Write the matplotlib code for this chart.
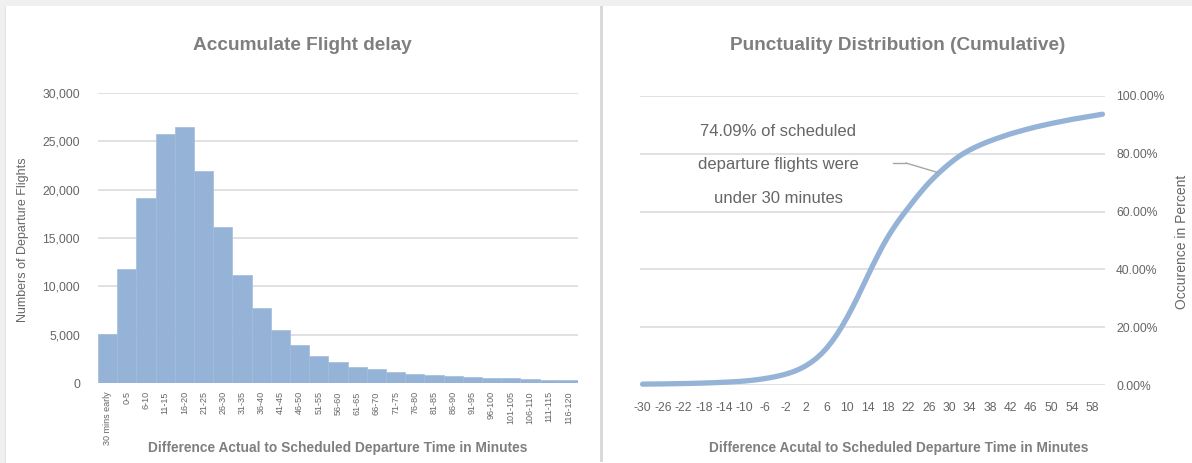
import matplotlib
matplotlib.use('Agg')
import matplotlib.pyplot as plt
from matplotlib.patches import Rectangle
from matplotlib.lines import Line2D
from matplotlib.ticker import FuncFormatter, FixedLocator

# ---------------- data ----------------
categories = ['30 mins early', '0-5', '6-10', '11-15', '16-20', '21-25', '26-30',
              '31-35', '36-40', '41-45', '46-50', '51-55', '56-60', '61-65',
              '66-70', '71-75', '76-80', '81-85', '86-90', '91-95', '96-100',
              '101-105', '106-110', '111-115', '116-120']
flights = [5100, 11750, 19100, 25800, 26450, 21950, 16150, 11150, 7740, 5500,
           3890, 2820, 2170, 1650, 1410, 1140, 960, 830, 720, 620,
           550, 480, 410, 340, 310]

minutes = list(range(-30, 61))
cumulative_pct = [
    0.30, 0.32, 0.34, 0.36, 0.38, 0.41, 0.44, 0.47, 0.50, 0.54,
    0.58, 0.63, 0.68, 0.74, 0.80, 0.87, 0.95, 1.04, 1.14, 1.25,
    1.38, 1.55, 1.75, 1.98, 2.25, 2.55, 2.90, 3.30, 3.75, 4.30,
    4.95, 5.75, 6.70, 7.85, 9.20, 10.80, 12.70, 14.90, 17.40, 20.20,
    23.30, 26.60, 30.10, 33.80, 37.50, 41.20, 44.70, 48.10, 51.20, 54.00,
    56.60, 59.00, 61.30, 63.60, 65.80, 67.90, 69.90, 71.70, 73.40, 75.00,
    76.50, 77.90, 79.20, 80.30, 81.30, 82.20, 83.00, 83.75, 84.45, 85.10,
    85.70, 86.30, 86.90, 87.40, 87.90, 88.40, 88.85, 89.30, 89.70, 90.10,
    90.50, 90.85, 91.20, 91.55, 91.90, 92.20, 92.50, 92.80, 93.10, 93.40, 93.70]
minute_tick_labels = ['-30', '-26', '-22', '-18', '-14', '-10', '-6', '-2', '2', '6',
                      '10', '14', '18', '22', '26', '30', '34', '38', '42', '46',
                      '50', '54', '58']
left_yticks = [0, 5000, 10000, 15000, 20000, 25000, 30000]
right_yticks = [0, 20, 40, 60, 80, 100]
annotation_lines = ['74.09% of scheduled', 'departure flights were', 'under 30 minutes']
annotated_minute = 28

# ---------------- styling ----------------
W, H = 1192, 463
plt.rcParams['font.family'] = ['Liberation Sans', 'DejaVu Sans']
BAR = '#95b3d7'
GRID = '#d9d9d9'
TITLE_C = '#7f7f7f'
TICK_C = '#666666'

fig = plt.figure(figsize=(W / 100, H / 100), dpi=100)
fig.patch.set_facecolor('white')


def frect(x0, y0, x1, y1, color):
    """rectangle in figure pixel coords (y from top)."""
    fig.patches.append(Rectangle((x0 / W, 1 - y1 / H), (x1 - x0) / W, (y1 - y0) / H,
                                 transform=fig.transFigure, facecolor=color,
                                 edgecolor='none', zorder=-5))


frect(0, 0, W, 6, '#f0f0f0')
frect(0, 0, 5, H, '#f0f0f0')
frect(5, 6, 6, H, '#e2e2e2')
frect(600, 6, 603, 462, '#d9d9d9')


def ax_rect(x0, y0, x1, y1):
    return [x0 / W, 1 - y1 / H, (x1 - x0) / W, (y1 - y0) / H]


# ---------------- left chart ----------------
ax1 = fig.add_axes(ax_rect(98, 93, 578, 383))
xpos = list(range(len(categories)))
ax1.bar(xpos, flights, width=1.0, color=BAR, edgecolor='#a3bcdb', linewidth=0.5, zorder=3)
ax1.set_xlim(-0.5, len(categories) - 0.5)
ax1.set_ylim(0, 30000)
ax1.yaxis.set_major_locator(FixedLocator(left_yticks))
ax1.yaxis.set_major_formatter(FuncFormatter(lambda v, p: f'{v:,.0f}'))
ax1.grid(axis='y', color=GRID, linewidth=1.1, zorder=0)
ax1.set_axisbelow(True)
for s in ax1.spines.values():
    s.set_visible(False)
ax1.set_xticks(xpos)
ax1.set_xticklabels(categories, rotation=90, fontsize=6.5, color=TICK_C, va='top', ha='center')
ax1.tick_params(axis='x', length=0, pad=6)
ax1.tick_params(axis='y', length=0, pad=13, labelsize=8.7, labelcolor=TICK_C)
ax1.set_facecolor('none')

fig.text(302 / W, 1 - 46 / H, 'Accumulate Flight delay', ha='center', va='center',
         fontsize=13.7, fontweight='bold', color=TITLE_C)
fig.text(338 / W, 1 - 448 / H, 'Difference Actual to Scheduled Departure Time in Minutes',
         ha='center', va='center', fontsize=9.9, fontweight='bold', color=TITLE_C)
fig.text(23 / W, 1 - 240 / H, 'Numbers of Departure Flights', ha='center', va='center',
         rotation=90, fontsize=9, color=TICK_C)

# ---------------- right chart ----------------
ax2 = fig.add_axes(ax_rect(640, 96, 1105, 385))
ax2.plot(minutes, cumulative_pct, color=BAR, linewidth=3.8, solid_capstyle='round',
         solid_joinstyle='round', zorder=3, clip_on=False)
ax2.set_xlim(minutes[0] - 0.5, minutes[-1] + 0.5)
ax2.set_ylim(0, 100)
ax2.yaxis.tick_right()
ax2.yaxis.set_major_locator(FixedLocator(right_yticks))
ax2.yaxis.set_major_formatter(FuncFormatter(lambda v, p: f'{v:.2f}%'))
tick_pos = [int(t) for t in minute_tick_labels]
ax2.set_xticks(tick_pos)
ax2.set_xticklabels(minute_tick_labels)
ax2.grid(axis='y', color=GRID, linewidth=1.1, zorder=0)
ax2.set_axisbelow(True)
for s in ax2.spines.values():
    s.set_visible(False)
ax2.tick_params(axis='x', length=0, pad=12, labelsize=8.7, labelcolor=TICK_C)
ax2.tick_params(axis='y', length=0, pad=8, labelsize=8.7, labelcolor=TICK_C)
ax2.set_facecolor('none')

fig.text(898 / W, 1 - 46 / H, 'Punctuality Distribution (Cumulative)', ha='center', va='center',
         fontsize=13.7, fontweight='bold', color=TITLE_C)
fig.text(899 / W, 1 - 448 / H, 'Difference Acutal to Scheduled Departure Time in Minutes',
         ha='center', va='center', fontsize=9.9, fontweight='bold', color=TITLE_C)
fig.text(1182 / W, 1 - 242 / H, 'Occurence in Percent', ha='center', va='center',
         rotation=90, fontsize=10, color=TICK_C)

# annotation
for line, yy in zip(annotation_lines, [131, 165, 198]):
    fig.text(778 / W, 1 - yy / H, line, ha='center', va='center', fontsize=12, color=TICK_C)

ia = minutes.index(annotated_minute)
ax2.annotate('', xy=(minutes[ia], cumulative_pct[ia]), xycoords='data',
             xytext=(906, H - 163), textcoords='figure pixels',
             arrowprops=dict(arrowstyle='-', color='#a6a6a6', lw=1.0, shrinkA=0, shrinkB=1))
fig.lines.append(Line2D([893 / W, 906 / W], [1 - 163 / H, 1 - 163 / H],
                        transform=fig.transFigure, color='#a6a6a6', lw=1.0))

fig.savefig('out.png', dpi=100, facecolor=fig.get_facecolor())
